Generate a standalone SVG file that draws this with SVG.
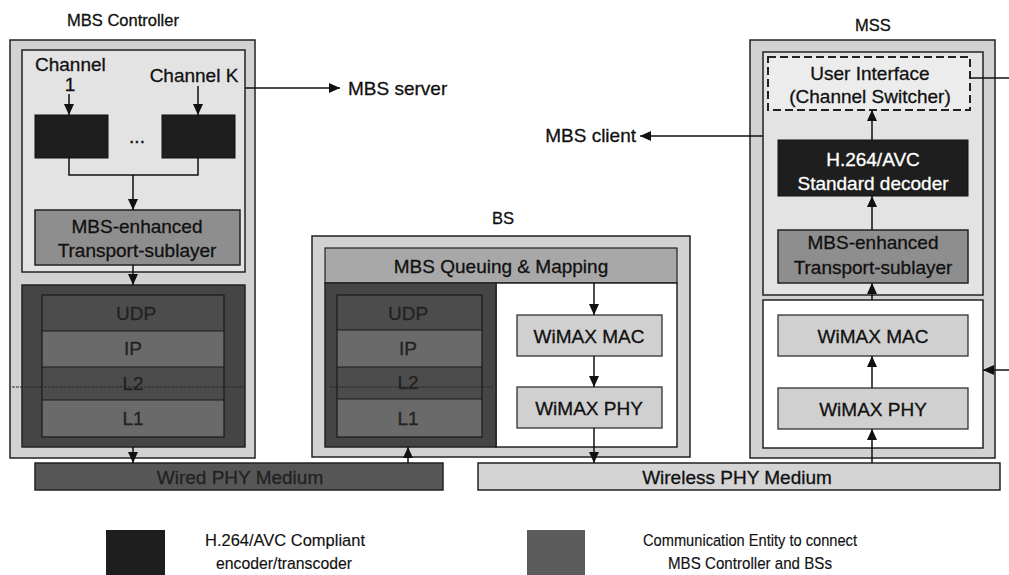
<svg xmlns="http://www.w3.org/2000/svg" width="1009" height="575" viewBox="0 0 1009 575">
<style>
text{font-family:"Liberation Sans",Arial,sans-serif;font-size:19px;fill:#111;stroke:#111;stroke-width:0.3}
.c{text-anchor:middle}
.tt{font-size:16.5px}
text.lg{font-size:17px;stroke-width:0.15}
.outer{fill:#d2d2d2;stroke:#222;stroke-width:1.5}
.inner{fill:#e3e3e3;stroke:#222;stroke-width:1.5}
.white{fill:#fff;stroke:#222;stroke-width:1.5}
.enc{fill:#1e1e1e;stroke:#111;stroke-width:1}
.trans{fill:#8e8e8e;stroke:#222;stroke-width:1.5}
.wimax{fill:#d0d0d0;stroke:#222;stroke-width:1.2}
.stack{fill:#454545;stroke:#222;stroke-width:1.5}
.row1{fill:#4c4c4c}
.row2{fill:#6a6a6a}
.rowline{stroke:#1a1a1a;stroke-width:1.2;fill:none}
text.st{fill:#222;stroke:#222}
text.wl{fill:#fff;stroke:#fff}
.conn{stroke:#111;stroke-width:1.5;fill:none}
</style>
<defs>
<marker id="ah" markerUnits="userSpaceOnUse" markerWidth="10" markerHeight="10" refX="11" refY="5" orient="auto">
<path d="M0,0 L11,5 L0,10 z" fill="#111"/>
</marker>
</defs>

<g id="mbs-controller">
<text x="123" y="26" class="c tt">MBS Controller</text>
<rect class="outer" x="10" y="40" width="245" height="418"/>
<rect class="inner" x="22" y="50" width="223" height="222"/>
<text x="35" y="71">Channel</text>
<text x="70" y="91" class="c">1</text>
<text x="194" y="82" class="c">Channel K</text>
</g>
<g id="encoder-1"><rect class="enc" x="35" y="115" width="73" height="43"/></g>
<g id="encoder-k"><rect class="enc" x="162" y="115" width="73" height="43"/></g>
<text x="137" y="143" class="c" font-size="12">...</text>
<g id="ctrl-transport">
<rect class="trans" x="35" y="210" width="205" height="55"/>
<text x="137" y="233" class="c">MBS-enhanced</text>
<text x="137" y="257" class="c">Transport-sublayer</text>
</g>
<g id="ctrl-stack">
<rect class="stack" x="22" y="285" width="223" height="162"/>
<rect class="row1" x="42" y="295" width="182" height="36"/>
<rect class="row2" x="42" y="331" width="182" height="36"/>
<rect class="row1" x="42" y="367" width="182" height="33"/>
<rect class="row2" x="42" y="400" width="182" height="37"/>
<rect class="rowline" x="42" y="295" width="182" height="142"/>
<path class="rowline" d="M42 331 H224 M42 367 H224 M42 400 H224"/>
<path d="M12 387 H245" stroke="#2a2a2a" stroke-width="1" stroke-dasharray="3 1"/>
<text x="136" y="320" class="c st">UDP</text>
<text x="133" y="355" class="c st">IP</text>
<text x="133" y="390" class="c st">L2</text>
<text x="133" y="425" class="c st">L1</text>
</g>
<g id="mbs-server"><text x="348" y="95">MBS server</text></g>
<g id="wired-medium">
<rect x="35" y="463" width="408" height="27" fill="#565656" stroke="#222" stroke-width="1.5"/>
<text x="240" y="484" class="c st">Wired PHY Medium</text>
</g>

<g id="bs">
<text x="503" y="224" class="c tt">BS</text>
<rect class="outer" x="312" y="236" width="378" height="221"/>
<rect x="325" y="248" width="352" height="35" fill="#a8a8a8" stroke="#222" stroke-width="1.2"/>
<text x="501" y="273" class="c">MBS Queuing &amp; Mapping</text>
<rect class="white" x="496" y="283" width="181" height="164"/>
</g>
<g id="bs-stack">
<rect class="stack" x="325" y="283" width="171" height="164"/>
<rect class="row1" x="337" y="295" width="145" height="35"/>
<rect class="row2" x="337" y="330" width="145" height="37"/>
<rect class="row1" x="337" y="367" width="145" height="32"/>
<rect class="row2" x="337" y="399" width="145" height="38"/>
<rect class="rowline" x="337" y="295" width="145" height="142"/>
<path class="rowline" d="M337 330 H482 M337 367 H482 M337 399 H482"/>
<path d="M330 387 H494" stroke="#2a2a2a" stroke-width="1" stroke-dasharray="3 1"/>
<text x="408" y="320" class="c st">UDP</text>
<text x="408" y="355" class="c st">IP</text>
<text x="408" y="389" class="c st">L2</text>
<text x="408" y="425" class="c st">L1</text>
</g>
<g id="bs-wimax-mac">
<rect class="wimax" x="517" y="315" width="145" height="41"/>
<text x="589" y="343" class="c">WiMAX MAC</text>
</g>
<g id="bs-wimax-phy">
<rect class="wimax" x="517" y="387" width="145" height="41"/>
<text x="589" y="415" class="c">WiMAX PHY</text>
</g>

<g id="mss">
<text x="873" y="31" class="c tt">MSS</text>
<rect class="outer" x="750" y="40" width="245" height="418"/>
<rect class="inner" x="763" y="52" width="220" height="243"/>
<rect class="white" x="763" y="300" width="220" height="148"/>
</g>
<g id="mss-ui">
<rect x="768" y="57" width="202" height="53" fill="#ececec" stroke="#222" stroke-width="2" stroke-dasharray="8 4"/>
<text x="870" y="80" class="c">User Interface</text>
<text x="870" y="103" class="c">(Channel Switcher)</text>
</g>
<g id="mss-decoder">
<rect class="enc" x="778" y="140" width="190" height="56"/>
<text x="873" y="166" class="c wl">H.264/AVC</text>
<text x="873" y="190" class="c wl">Standard decoder</text>
</g>
<g id="mss-transport">
<rect class="trans" x="778" y="230" width="190" height="53"/>
<text x="873" y="249" class="c">MBS-enhanced</text>
<text x="873" y="274" class="c">Transport-sublayer</text>
</g>
<g id="mss-wimax-mac">
<rect class="wimax" x="778" y="315" width="190" height="41"/>
<text x="873" y="343" class="c">WiMAX MAC</text>
</g>
<g id="mss-wimax-phy">
<rect class="wimax" x="778" y="388" width="190" height="41"/>
<text x="873" y="416" class="c">WiMAX PHY</text>
</g>
<g id="mbs-client"><text x="636" y="142" text-anchor="end">MBS client</text></g>
<g id="wireless-medium">
<rect x="478" y="463" width="522" height="27" fill="#d4d4d4" stroke="#222" stroke-width="1.5"/>
<text x="737" y="484" class="c">Wireless PHY Medium</text>
</g>

<g id="legend">
<rect x="106" y="530" width="59" height="45" fill="#1e1e1e"/>
<text x="285" y="546" class="c lg" textLength="160" lengthAdjust="spacingAndGlyphs">H.264/AVC Compliant</text>
<text x="284" y="569" class="c lg" textLength="136" lengthAdjust="spacingAndGlyphs">encoder/transcoder</text>
<rect x="527" y="530" width="58" height="45" fill="#5c5c5c"/>
<text x="750" y="546" class="c lg" textLength="214" lengthAdjust="spacingAndGlyphs">Communication Entity to connect</text>
<text x="750" y="569" class="c lg" textLength="164" lengthAdjust="spacingAndGlyphs">MBS Controller and BSs</text>
</g>

<g id="connectors">
<path class="conn" d="M69 94 V115" marker-end="url(#ah)"/>
<path class="conn" d="M198 86 V115" marker-end="url(#ah)"/>
<path class="conn" d="M69 158 V175 H198 V158"/>
<path class="conn" d="M133 175 V210" marker-end="url(#ah)"/>
<path class="conn" d="M133 265 V285" marker-end="url(#ah)"/>
<path class="conn" d="M133 447 V463" marker-end="url(#ah)"/>
<path class="conn" d="M245 88 H340" marker-end="url(#ah)"/>
<path class="conn" d="M408 463 V447" marker-end="url(#ah)"/>
<path class="conn" d="M594 283 V315" marker-end="url(#ah)"/>
<path class="conn" d="M594 356 V387" marker-end="url(#ah)"/>
<path class="conn" d="M594 428 V463" marker-end="url(#ah)"/>
<path class="conn" d="M872 463 V429" marker-end="url(#ah)"/>
<path class="conn" d="M872 388 V356" marker-end="url(#ah)"/>
<path class="conn" d="M872 300 V283" marker-end="url(#ah)"/>
<path class="conn" d="M872 230 V196" marker-end="url(#ah)"/>
<path class="conn" d="M872 140 V110" marker-end="url(#ah)"/>
<path class="conn" d="M970 78 H1009"/>
<path class="conn" d="M1009 370 H983" marker-end="url(#ah)"/>
<path class="conn" d="M763 136 H640" marker-end="url(#ah)"/>
</g>
</svg>
